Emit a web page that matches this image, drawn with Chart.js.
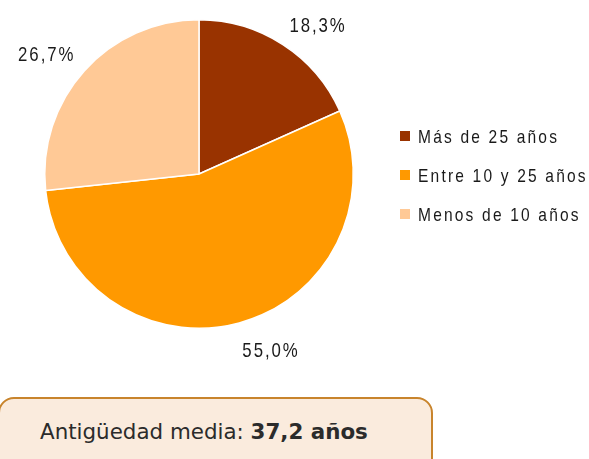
<!DOCTYPE html>
<html>
<head>
<meta charset="utf-8">
<script src="https://cdn.jsdelivr.net/npm/chart.js@4.4.1/dist/chart.umd.min.js"></script>
<style>
    html, body { margin: 0; padding: 0; background: #fff; }
    #wrap { position: relative; width: 589px; height: 459px; overflow: hidden; }
    #pieChart { position: absolute; left: 0; top: 0; }
    .media-box {
        position: absolute;
        left: -2px;
        top: 397px;
        width: 435px;
        height: 80px;
        box-sizing: border-box;
        background: #faebdd;
        border: 2px solid #c8842c;
        border-radius: 16px;
        font-family: "DejaVu Sans", sans-serif;
        font-size: 21.4px;
        line-height: 26px;
        color: #2b2b2b;
        padding-left: 40px;
        padding-top: 20px;
    }
</style>
</head>
<body>
<div id="wrap">
    <canvas id="pieChart" width="589" height="459"></canvas>
    <div class="media-box">Antigüedad media: <b>37,2 años</b></div>
</div>
<script>
const categories = ['Más de 25 años', 'Entre 10 y 25 años', 'Menos de 10 años'];
const shares = [18.3, 55.0, 26.7];
const shareLabels = ['18,3%', '55,0%', '26,7%'];
const sliceColors = ['#993300', '#ff9900', '#ffc996'];

// narrow, spaced-out text (the original uses a condensed font)
function drawNarrow(ctx, text, x, y, size, squeeze, spacing, align) {
    ctx.save();
    ctx.font = size + 'px "Liberation Sans", Arial, sans-serif';
    ctx.letterSpacing = spacing + 'px';
    ctx.textAlign = 'left';
    ctx.textBaseline = 'alphabetic';
    const w = ctx.measureText(text).width * squeeze;
    let left = x;
    if (align === 'right') left = x - w;
    if (align === 'center') left = x - w / 2;
    ctx.translate(left, y);
    ctx.scale(squeeze, 1);
    ctx.fillText(text, 0, 0);
    ctx.restore();
}

// Draws the percentage labels outside the slices and the legend on the right
const outsideLabels = {
    id: 'outsideLabels',
    afterDatasetsDraw(chart) {
        const ctx = chart.ctx;
        const meta = chart.getDatasetMeta(0);
        const capH = 15;
        ctx.save();
        ctx.fillStyle = '#1a1a1a';
        meta.data.forEach((arc, i) => {
            const mid = (arc.startAngle + arc.endAngle) / 2;
            const r = arc.outerRadius + 12;
            const x = arc.x + Math.cos(mid) * r;
            const y = arc.y + Math.sin(mid) * r;
            const align = Math.cos(mid) >= 0 ? 'left' : 'right';
            const base = Math.sin(mid) < 0 ? y - 2 : y + capH + 8;
            drawNarrow(ctx, shareLabels[i], x, base, 21, 0.8, 2.4, align);
        });

        // legend
        const lx = 400, ly = 136, step = 39;
        categories.forEach((name, i) => {
            ctx.fillStyle = sliceColors[i];
            ctx.fillRect(lx, ly + i * step - 5, 10, 10);
            ctx.fillStyle = '#1a1a1a';
            drawNarrow(ctx, name, lx + 18, ly + i * step + 7, 18.5, 0.84, 2.6, 'left');
        });
        ctx.restore();
    }
};

new Chart(document.getElementById('pieChart'), {
    type: 'pie',
    data: {
        labels: categories,
        datasets: [{
            data: shares,
            backgroundColor: sliceColors,
            borderColor: '#ffffff',
            borderWidth: 1.5
        }]
    },
    options: {
        responsive: false,
        animation: false,
        layout: { padding: { left: 44, top: 19, right: 235, bottom: 130 } },
        plugins: {
            legend: { display: false },
            tooltip: { enabled: false }
        }
    },
    plugins: [outsideLabels]
});
</script>
</body>
</html>
